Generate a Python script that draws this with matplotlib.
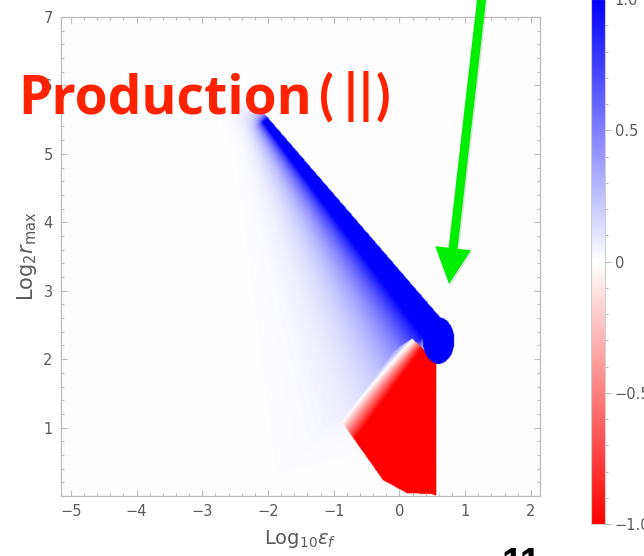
import numpy as np
import matplotlib
matplotlib.use("Agg")
import matplotlib.pyplot as plt
from matplotlib.colors import LinearSegmentedColormap
from matplotlib.path import Path
from matplotlib.patches import FancyArrow
from matplotlib.ticker import MultipleLocator
from matplotlib.cm import ScalarMappable
from matplotlib.colors import Normalize

# ---- axes ranges and ticks ----
x_range = [-5.15, 2.14]
y_range = [0.0, 7.0]
x_ticks = [-5, -4, -3, -2, -1, 0, 1, 2]
y_ticks = [1, 2, 3, 4, 5, 6, 7]
cbar_ticks = [-1.0, -0.5, 0.0, 0.5, 1.0]
cbar_labels = ["\u22121.0", "\u22120.5", "0", "0.5", "1.0"]

# ---- blue band: sharp upper edge from its top end to its lower end ----
band_edge_x = [-2.00, 0.65]
band_edge_y = [5.53, 2.58]
band_core_width = [0.10, 0.38]     # top end, lower end
band_fade_length = [0.12, 0.62]    # top end, lower end
# blue knob at the lower end of the band
knob_center = [0.60, 2.27]
knob_radii = [0.24, 0.34]

# ---- red region: sharp outline and the soft upper-left edge ----
red_outline_x = [0.57, 0.56, 0.51, 0.11, -0.25, -0.72, -1.15, 0.20]
red_outline_y = [1.95, 0.00, 0.02, 0.04, 0.23, 0.87, 1.45, 2.30]
red_fade_edge_x = [0.33, -0.67]
red_fade_edge_y = [2.14, 0.83]
red_fade_length = 0.32
red_right_x = 0.57

# ---- field on a regular grid ----
nx, ny = 730, 700
xs = np.linspace(x_range[0], x_range[1], nx)
ys = np.linspace(y_range[0], y_range[1], ny)
X, Y = np.meshgrid(xs, ys)

p0 = np.array([band_edge_x[0], band_edge_y[0]])
p1 = np.array([band_edge_x[1], band_edge_y[1]])
seg = p1 - p0
seg_len = np.hypot(*seg)
u = seg / seg_len
nrm = np.array([u[1], -u[0]])          # points to the lower-left side
DX, DY = X - p0[0], Y - p0[1]
along = (DX * u[0] + DY * u[1])          # distance along the band
s = DX * nrm[0] + DY * nrm[1]           # distance from the sharp edge
tc = np.clip(along / seg_len, 0, 1)
w = band_core_width[0] + (band_core_width[1] - band_core_width[0]) * tc
lam = band_fade_length[0] + (band_fade_length[1] - band_fade_length[0]) * tc
excess = np.maximum(s - w, 0)
blue = np.where(s < 0, 0.0, np.where(s <= w, 1.0, np.exp(-excess / lam)))
# the core stops sharply at both ends, the haze beside it more gently
soft = np.clip(excess / 0.5, 0, 1)
top_scale = 0.10 + 0.35 * soft
end_scale = 0.08 + 0.25 * soft
end_factor = np.where(along < 0, np.exp(along / top_scale),
                      np.where(along > seg_len, np.exp(-(along - seg_len) / end_scale), 1.0))
blue = blue * end_factor
# nothing to the right of the red region below the knob
blue = np.where((X > red_right_x) & (Y < knob_center[1] - 0.2), 0.0, blue)

# red: inside the outline, ramping in across the soft edge
outline = Path(np.column_stack([red_outline_x, red_outline_y]))
inside = outline.contains_points(np.column_stack([X.ravel(), Y.ravel()])).reshape(X.shape)
a = np.array([red_fade_edge_x[0], red_fade_edge_y[0]])
b = np.array([red_fade_edge_x[1], red_fade_edge_y[1]])
fe = (b - a) / np.hypot(*(b - a))
fn = np.array([-fe[1], fe[0]])
if (np.array([0.5, 1.0]) - a) @ fn < 0:
    fn = -fn
dist_in = (X - a[0]) * fn[0] + (Y - a[1]) * fn[1]
red = inside * np.clip(1 + dist_in / red_fade_length, 0, 1)

field = blue * (1 - red) - red
knob = ((X - knob_center[0]) / knob_radii[0]) ** 2 + ((Y - knob_center[1]) / knob_radii[1]) ** 2 <= 1
field[knob] = 1.0

# ---- figure ----
W, H = 644, 556
fig = plt.figure(figsize=(W / 100, H / 100), dpi=100)
fig.patch.set_facecolor("white")

cmap = LinearSegmentedColormap.from_list("rwb", ["#ff0000", "#ffffff", "#0000ff"])
norm = Normalize(-1, 1)

tick_col = "#bdbdbd"
lab_col = "#5a5a5a"

ax = fig.add_axes([61 / W, (H - 496) / H, (540 - 61) / W, (496 - 17) / H])
ax.imshow(field, extent=[x_range[0], x_range[1], y_range[0], y_range[1]],
          origin="lower", cmap=cmap, norm=norm, aspect="auto",
          interpolation="bilinear")
ax.set_xlim(x_range)
ax.set_ylim(y_range)
ax.set_xticks(x_ticks)
ax.set_xticklabels([("\u2212%d" % -v) if v < 0 else str(v) for v in x_ticks])
ax.set_yticks(y_ticks)
ax.xaxis.set_minor_locator(MultipleLocator(0.2))
ax.yaxis.set_minor_locator(MultipleLocator(0.2))
ax.tick_params(which="both", direction="in", top=True, right=True,
               color=tick_col, labelcolor=lab_col, labelsize=10.5, width=0.8)
ax.tick_params(which="major", length=4, pad=6)
ax.tick_params(which="minor", length=2)
for sp in ax.spines.values():
    sp.set_color(tick_col)
    sp.set_linewidth(0.9)
ax.set_xlabel("Log$_{10}\\epsilon_f$", fontsize=14, color=lab_col, labelpad=6)
ax.set_ylabel("Log$_2 r_{\\mathrm{max}}$", fontsize=15, color=lab_col, labelpad=3)

# ---- colour bar ----
cax = fig.add_axes([591 / W, (H - 524) / H, 14 / W, 525 / H])
cb = fig.colorbar(ScalarMappable(norm=norm, cmap=cmap), cax=cax)
cb.set_ticks(cbar_ticks)
cb.set_ticklabels(cbar_labels)
cb.ax.yaxis.set_minor_locator(MultipleLocator(0.1))
cb.ax.tick_params(which="both", direction="out", color=tick_col,
                  labelcolor=lab_col, labelsize=10.5, width=0.8)
cb.ax.tick_params(which="major", length=4, pad=3)
cb.ax.tick_params(which="minor", length=2)
cb.outline.set_edgecolor("#d0d0d0")
cb.outline.set_linewidth(0.8)

# ---- overlay in pixel coordinates: title, arrow, page number ----
ov = fig.add_axes([0, 0, 1, 1], facecolor="none")
ov.set_xlim(0, W)
ov.set_ylim(H, 0)
ov.axis("off")

title_col = "#ff2200"
title_font = dict(color=title_col, fontsize=38.5, fontweight="bold", va="baseline")
ov.text(18, 113, "Production", family=["Open Sans", "DejaVu Sans"], ha="left", **title_font)
# the bracketed part, glyph by glyph for its wider spacing
for ch, cx in zip(["(", "|", "|", ")"], [326, 351, 366, 383]):
    ov.text(cx, 113, ch, family=["Lato", "DejaVu Sans"], ha="center", **title_font)

tail = (482.6, -10.0)
tip = (449.0, 284.0)
ov.add_patch(FancyArrow(tail[0] + 1.5, tail[1] + 1.5, tip[0] - tail[0], tip[1] - tail[1],
                        width=9, head_width=36, head_length=36,
                        length_includes_head=True, color="#000000", alpha=0.12, lw=0))
ov.add_patch(FancyArrow(tail[0], tail[1], tip[0] - tail[0], tip[1] - tail[1],
                        width=9, head_width=36, head_length=36,
                        length_includes_head=True, color="#00ee00", lw=0))

ov.text(521, 547, "11", color="black", fontsize=27, fontweight="bold",
        family=["Liberation Sans", "DejaVu Sans"], ha="center", va="top")

fig.savefig("out.png", dpi=100, facecolor="white")
